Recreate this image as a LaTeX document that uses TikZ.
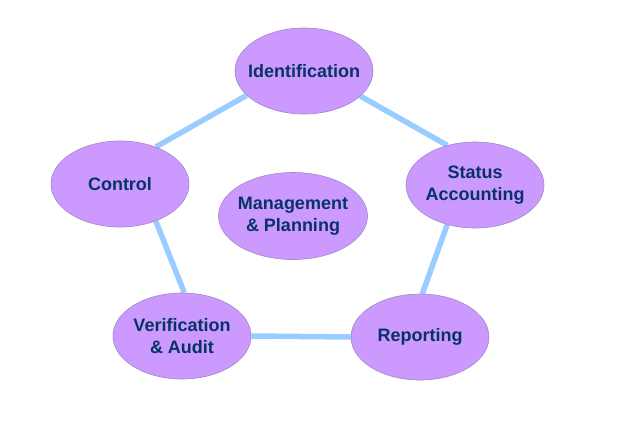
\documentclass[tikz,border=0pt]{standalone}
\usepackage{fontspec}
\setmainfont{Liberation Sans}
\usetikzlibrary{shapes.geometric, backgrounds}

\definecolor{ovalfill}{HTML}{CC99FF}
\definecolor{ovaledge}{HTML}{9A88C8}
\definecolor{linkblue}{HTML}{99CCFF}
\definecolor{navytext}{HTML}{063366}

\begin{document}
\begin{tikzpicture}[x=1pt, y=-1pt,
    elli/.style={ellipse, draw=ovaledge, line width=0.6pt, fill=ovalfill, minimum width=138pt, minimum height=86pt, inner sep=0pt},
    txt/.style={align=center, text=navytext, font=\fontsize{18}{22}\selectfont\bfseries, inner sep=0pt},
    link/.style={draw=linkblue, line width=5.5pt}]
    \useasboundingbox (0,0) rectangle (618,421);

    \node[elli, label={[txt]center:Identification}] (ident) at (304,71) {};
    \node[elli, label={[txt]center:{Status\\Accounting}}] (status) at (475,185) {};
    \node[elli, label={[txt]center:Reporting}] (report) at (420,337) {};
    \node[elli, label={[txt]center:{Verification\\\& Audit}}] (verif) at (182,336) {};
    \node[elli, label={[txt]center:Control}] (control) at (120,184) {};
    \node[elli, minimum width=149pt, minimum height=87pt, label={[txt]center:{Management\\\& Planning}}] (mgmt) at (293,216) {};

    % ring of links behind the ovals
    \begin{scope}[on background layer]
        \path[link] (control.46) -- (ident.203);
        \path[link] (ident.336) -- (status.125);
        \path[link] (status.235) -- (report.87);
        \path[link] (report.180) -- (verif.0);
        \path[link] (verif.87) -- (control.314);
    \end{scope}
\end{tikzpicture}
\end{document}
